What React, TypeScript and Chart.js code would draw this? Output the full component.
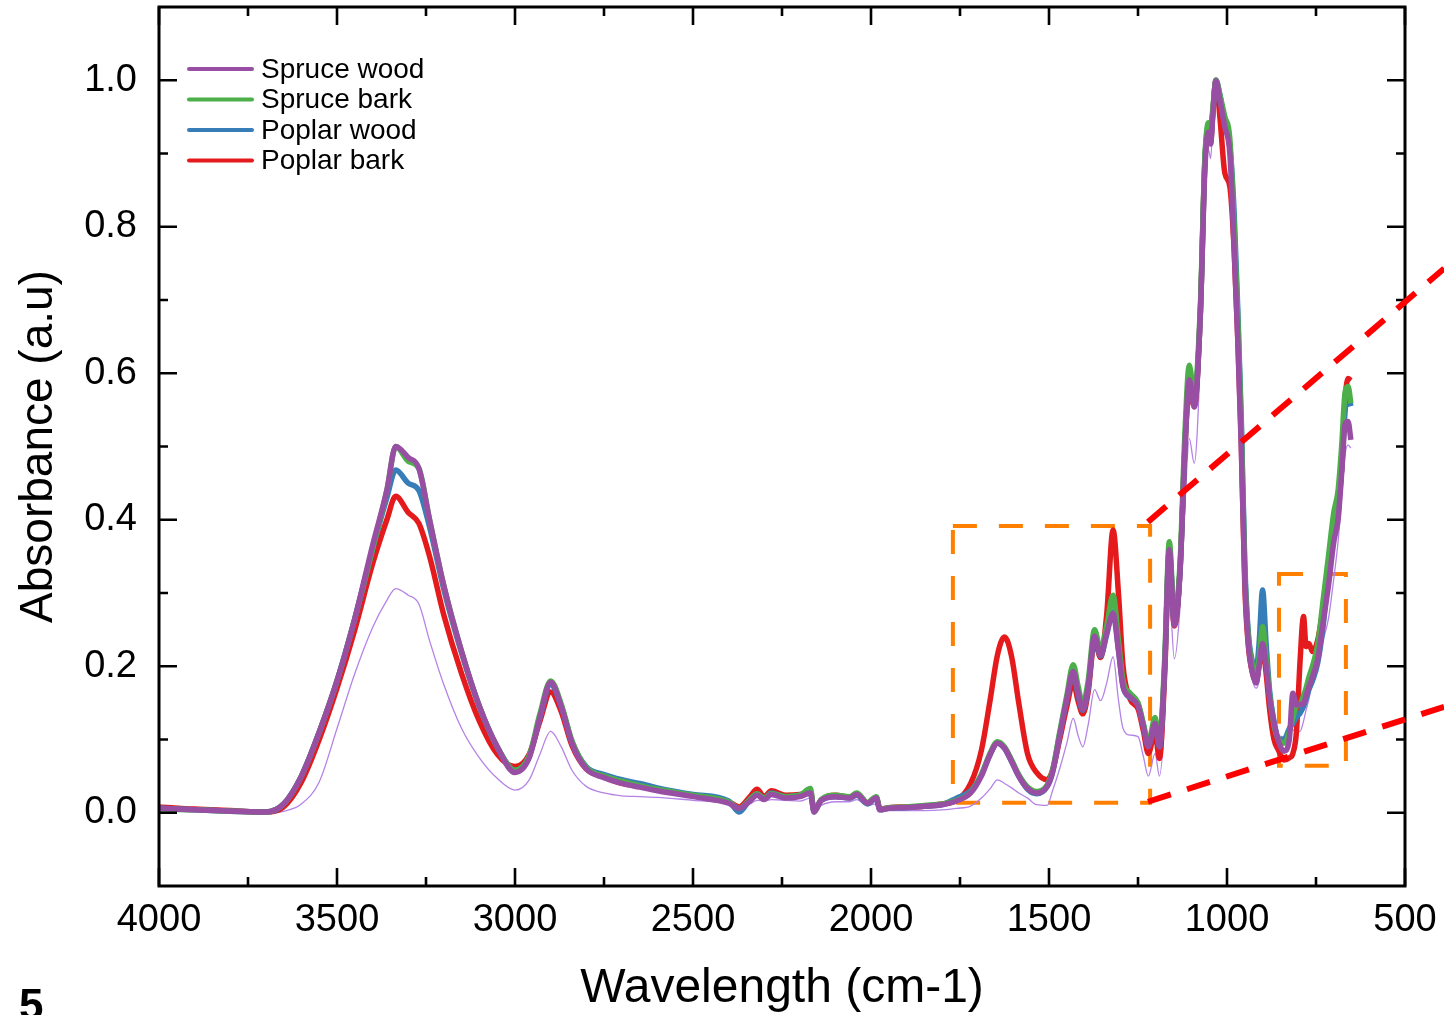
import React, { useEffect, useRef } from 'react';
import { Chart, registerables } from 'chart.js';

Chart.register(...registerables);

// Wavenumbers (cm-1)
const WAVENUMBERS = [
  4000, 3900, 3800, 3700, 3650, 3600, 3550, 3500, 3450, 3400,
  3360, 3335, 3300, 3270, 3240, 3200, 3150, 3100, 3050, 3000,
  2960, 2930, 2900, 2870, 2840, 2800, 2750, 2700, 2650, 2600,
  2500, 2400, 2370, 2340, 2320, 2300, 2280, 2240, 2200, 2170,
  2160, 2140, 2100, 2060, 2040, 2010, 1985, 1975, 1950, 1900,
  1850, 1800, 1760, 1720, 1690, 1665, 1645, 1625, 1605, 1585,
  1560, 1535, 1505, 1490, 1470, 1450, 1432, 1418, 1405, 1390,
  1372, 1355, 1338, 1320, 1305, 1292, 1272, 1250, 1235, 1221,
  1202, 1190, 1175, 1162, 1148, 1132, 1118, 1106, 1092, 1075,
  1062, 1052, 1046, 1040, 1031, 1020, 1006, 992, 980, 970,
  960, 950, 940, 928, 918, 910, 900, 890, 880, 868,
  855, 840, 825, 815, 805, 795, 785, 778, 770, 760,
  745, 730, 715, 700, 688, 678, 668, 660, 652,
];

const SPRUCE_WOOD = [
  0.006, 0.004, 0.002, 0.001, 0.012, 0.05, 0.11, 0.18, 0.265, 0.365,
  0.44, 0.5, 0.485, 0.47, 0.4, 0.31, 0.22, 0.145, 0.09, 0.055,
  0.075, 0.13, 0.178, 0.145, 0.095, 0.06, 0.048, 0.04, 0.035, 0.03,
  0.022, 0.013, 0.006, 0.016, 0.024, 0.018, 0.025, 0.02, 0.022, 0.027,
  0.001, 0.017, 0.022, 0.02, 0.025, 0.013, 0.02, 0.004, 0.006, 0.007,
  0.009, 0.011, 0.016, 0.027, 0.05, 0.08, 0.095, 0.088, 0.07, 0.05,
  0.033, 0.027, 0.036, 0.055, 0.105, 0.155, 0.193, 0.163, 0.141, 0.172,
  0.241, 0.215, 0.245, 0.272, 0.222, 0.172, 0.158, 0.146, 0.118, 0.09,
  0.122, 0.09, 0.2, 0.359, 0.256, 0.33, 0.5, 0.591, 0.554, 0.68,
  0.88, 0.929, 0.913, 0.95, 0.999, 0.973, 0.936, 0.9, 0.77, 0.65,
  0.5, 0.32, 0.231, 0.19, 0.177, 0.2, 0.231, 0.2, 0.155, 0.123,
  0.097, 0.084, 0.1, 0.163, 0.147, 0.148, 0.149, 0.16, 0.172, 0.185,
  0.21, 0.26, 0.31, 0.37, 0.4, 0.463, 0.531, 0.534, 0.509,
];

const SPRUCE_BARK = [
  0.005, 0.004, 0.002, 0.001, 0.012, 0.05, 0.11, 0.18, 0.265, 0.36,
  0.44, 0.5, 0.48, 0.47, 0.4, 0.31, 0.22, 0.145, 0.09, 0.058,
  0.078, 0.135, 0.18, 0.148, 0.098, 0.062, 0.05, 0.043, 0.037, 0.032,
  0.024, 0.015, 0.006, 0.018, 0.026, 0.02, 0.026, 0.022, 0.024, 0.033,
  0.002, 0.018, 0.024, 0.022, 0.027, 0.014, 0.022, 0.005, 0.007, 0.008,
  0.01, 0.012, 0.017, 0.028, 0.052, 0.082, 0.097, 0.09, 0.072, 0.052,
  0.035, 0.029, 0.038, 0.058, 0.11, 0.16, 0.202, 0.172, 0.148, 0.18,
  0.25, 0.222, 0.255, 0.297, 0.235, 0.18, 0.163, 0.15, 0.122, 0.095,
  0.13, 0.095, 0.21, 0.37, 0.265, 0.34, 0.52, 0.611, 0.57, 0.69,
  0.895, 0.942, 0.935, 0.96, 1.0, 0.98, 0.95, 0.92, 0.8, 0.68,
  0.53, 0.33, 0.24, 0.2, 0.19, 0.21, 0.254, 0.21, 0.16, 0.12,
  0.1, 0.095, 0.11, 0.13, 0.145, 0.148, 0.16, 0.17, 0.185, 0.2,
  0.23, 0.29, 0.35, 0.41, 0.44, 0.5, 0.575, 0.582, 0.559,
];

const POPLAR_WOOD = [
  0.006, 0.004, 0.002, 0.001, 0.012, 0.05, 0.11, 0.18, 0.265, 0.36,
  0.43, 0.468, 0.45, 0.44, 0.39, 0.305, 0.218, 0.145, 0.09, 0.058,
  0.077, 0.13, 0.175, 0.145, 0.097, 0.063, 0.052, 0.045, 0.04, 0.034,
  0.025, 0.016, 0.001, 0.018, 0.026, 0.02, 0.027, 0.022, 0.024, 0.028,
  0.001, 0.017, 0.022, 0.02, 0.024, 0.012, 0.02, 0.004, 0.006, 0.007,
  0.009, 0.011, 0.02, 0.03, 0.052, 0.08, 0.095, 0.088, 0.07, 0.05,
  0.032, 0.026, 0.036, 0.056, 0.107, 0.155, 0.19, 0.16, 0.14, 0.17,
  0.24, 0.214, 0.243, 0.275, 0.224, 0.173, 0.157, 0.148, 0.12, 0.092,
  0.12, 0.09, 0.2, 0.36, 0.26, 0.33, 0.5, 0.595, 0.56, 0.68,
  0.89, 0.935, 0.92, 0.955, 1.0, 0.98, 0.94, 0.91, 0.82, 0.69,
  0.54, 0.34, 0.245, 0.205, 0.195, 0.23, 0.304, 0.23, 0.165, 0.125,
  0.1, 0.1, 0.115, 0.122, 0.13, 0.136, 0.145, 0.155, 0.168, 0.18,
  0.205, 0.255, 0.33, 0.4, 0.42, 0.47, 0.55, 0.57, 0.555,
];

const POPLAR_BARK = [
  0.008, 0.005, 0.003, 0.001, 0.008, 0.042, 0.1, 0.17, 0.25, 0.34,
  0.4, 0.432, 0.41, 0.395, 0.35, 0.27, 0.19, 0.125, 0.08, 0.063,
  0.08, 0.125, 0.165, 0.138, 0.092, 0.06, 0.049, 0.04, 0.036, 0.031,
  0.024, 0.015, 0.008, 0.022, 0.032, 0.022, 0.03, 0.024, 0.025, 0.028,
  0.004, 0.017, 0.024, 0.021, 0.026, 0.013, 0.02, 0.005, 0.007, 0.008,
  0.009, 0.012, 0.017, 0.04, 0.085, 0.155, 0.215, 0.24, 0.213, 0.15,
  0.08, 0.055, 0.045, 0.058, 0.1, 0.145, 0.178, 0.152, 0.135, 0.165,
  0.235, 0.212, 0.27, 0.386, 0.3, 0.2, 0.155, 0.142, 0.112, 0.081,
  0.11, 0.074, 0.19, 0.355, 0.255, 0.33, 0.5, 0.58, 0.555, 0.68,
  0.89, 0.93, 0.915, 0.955, 1.0, 0.95, 0.873, 0.855, 0.77, 0.65,
  0.51, 0.31, 0.228, 0.19, 0.18, 0.2, 0.227, 0.19, 0.14, 0.1,
  0.085, 0.072, 0.075, 0.081, 0.11, 0.205, 0.268, 0.227, 0.231, 0.22,
  0.236, 0.28, 0.34, 0.39, 0.42, 0.47, 0.565, 0.593, 0.59,
];

// Thin, unlabeled trace
const THIN_TRACE = [
  0.004, 0.002, 0.001, 0.0, 0.002, 0.012, 0.042, 0.115, 0.19, 0.253,
  0.29, 0.306, 0.297, 0.285, 0.235, 0.175, 0.115, 0.075, 0.047, 0.031,
  0.045, 0.08, 0.111, 0.09, 0.058, 0.036, 0.027, 0.023, 0.022, 0.021,
  0.017, 0.013, 0.009, 0.012, 0.017, 0.016, 0.018, 0.017, 0.016, 0.02,
  0.002, 0.01, 0.015, 0.015, 0.018, 0.01, 0.012, 0.003, 0.003, 0.003,
  0.003, 0.004, 0.006, 0.009, 0.02, 0.033, 0.045, 0.04, 0.034, 0.027,
  0.02, 0.011, 0.01, 0.03, 0.06, 0.095, 0.129, 0.105, 0.09, 0.12,
  0.168, 0.153, 0.177, 0.213, 0.154, 0.115, 0.106, 0.104, 0.077, 0.05,
  0.081, 0.05, 0.13, 0.3, 0.21, 0.28, 0.42, 0.511, 0.477, 0.62,
  0.85, 0.905, 0.893, 0.94, 0.995, 0.97, 0.93, 0.9, 0.78, 0.65,
  0.5, 0.3, 0.22, 0.18, 0.17, 0.18, 0.22, 0.18, 0.14, 0.115,
  0.105, 0.104, 0.108, 0.113, 0.112, 0.111, 0.125, 0.14, 0.155, 0.18,
  0.2, 0.235, 0.265, 0.32, 0.37, 0.43, 0.49, 0.502, 0.498,
];

const SERIES_LABELS = ['Spruce wood', 'Spruce bark', 'Poplar wood', 'Poplar bark'];
const SERIES_COLORS = ['#984ea3', '#4daf4a', '#377eb8', '#e41a1c'];
const THIN_COLOR = '#b583e6';

const X_TICKS = [4000, 3500, 3000, 2500, 2000, 1500, 1000, 500];
const X_MINOR_TICKS = [3750, 3250, 2750, 2250, 1750, 1250, 750];
const Y_TICKS = [0, 0.2, 0.4, 0.6, 0.8, 1.0];
const Y_MINOR_TICKS = [0.1, 0.3, 0.5, 0.7, 0.9];

// Annotation boxes (wavenumber from/to, absorbance low/high)
const ZOOM_BOX_X = [[1770, 1216], [854, 666]];
const ZOOM_BOX_Y = [[0.0136, 0.3915], [0.064, 0.326]];
// Red connector lines (start, end) in data units
const CONNECTOR_X = [[1222, 390], [1222, 390]];
const CONNECTOR_Y = [[0.397, 0.743], [0.015, 0.1446]];

const FONT = "'Liberation Sans', Arial, Helvetica, sans-serif";

const decorPlugin = {
  id: 'decor',
  beforeDatasetsDraw(chart: any) {
    const { ctx } = chart;
    const xs = chart.scales.x;
    const ys = chart.scales.y;
    ctx.save();
    ctx.strokeStyle = '#ff8000';
    ctx.lineWidth = 4;
    ctx.setLineDash([24, 22]);
    ZOOM_BOX_X.forEach((bx, i) => {
      const x1 = xs.getPixelForValue(bx[0]);
      const x2 = xs.getPixelForValue(bx[1]);
      const y1 = ys.getPixelForValue(ZOOM_BOX_Y[i][1]);
      const y2 = ys.getPixelForValue(ZOOM_BOX_Y[i][0]);
      ctx.strokeRect(x1, y1, x2 - x1, y2 - y1);
    });
    ctx.restore();
  },
  afterDraw(chart: any) {
    const { ctx, chartArea } = chart;
    const { left, right, top, bottom } = chartArea;
    const xs = chart.scales.x;
    const ys = chart.scales.y;
    ctx.save();
    // frame
    ctx.strokeStyle = '#000';
    ctx.lineWidth = 3;
    ctx.setLineDash([]);
    ctx.strokeRect(left, top, right - left, bottom - top);
    // ticks
    ctx.lineWidth = 2.6;
    const drawX = (vals: number[], len: number) => {
      vals.forEach((v) => {
        const p = xs.getPixelForValue(v);
        ctx.beginPath();
        ctx.moveTo(p, bottom);
        ctx.lineTo(p, bottom - len);
        ctx.moveTo(p, top);
        ctx.lineTo(p, top + len);
        ctx.stroke();
      });
    };
    const drawY = (vals: number[], len: number) => {
      vals.forEach((v) => {
        const p = ys.getPixelForValue(v);
        ctx.beginPath();
        ctx.moveTo(left, p);
        ctx.lineTo(left + len, p);
        ctx.moveTo(right, p);
        ctx.lineTo(right - len, p);
        ctx.stroke();
      });
    };
    drawX(X_TICKS, 18);
    drawX(X_MINOR_TICKS, 9);
    drawY(Y_TICKS, 18);
    drawY(Y_MINOR_TICKS, 9);

    // red connector lines
    ctx.strokeStyle = '#ff0000';
    ctx.lineWidth = 6;
    ctx.setLineDash([24, 17]);
    CONNECTOR_X.forEach((cx, i) => {
      ctx.beginPath();
      ctx.moveTo(xs.getPixelForValue(cx[0]), ys.getPixelForValue(CONNECTOR_Y[i][0]));
      ctx.lineTo(xs.getPixelForValue(cx[1]), ys.getPixelForValue(CONNECTOR_Y[i][1]));
      ctx.stroke();
    });

    // legend
    ctx.setLineDash([]);
    ctx.font = `28px ${FONT}`;
    ctx.textBaseline = 'middle';
    ctx.textAlign = 'left';
    SERIES_LABELS.forEach((label, i) => {
      const y = top + 62 + i * 30.5;
      ctx.strokeStyle = SERIES_COLORS[i];
      ctx.lineWidth = 4;
      ctx.lineCap = 'round';
      ctx.beginPath();
      ctx.moveTo(left + 30, y);
      ctx.lineTo(left + 93, y);
      ctx.stroke();
      ctx.fillStyle = '#000';
      ctx.fillText(label, left + 102, y + 1);
    });

    // panel number
    ctx.font = `bold 44px ${FONT}`;
    ctx.textBaseline = 'alphabetic';
    ctx.fillStyle = '#000';
    ctx.fillText('5', 19, 1020);
    ctx.restore();
  },
};

export default function App() {
  const ref = useRef<HTMLCanvasElement>(null);

  useEffect(() => {
    document.body.style.margin = '0';
    document.body.style.overflow = 'hidden';
    const canvas = ref.current;
    if (!canvas) return;
    const mk = (ys: number[]) => WAVENUMBERS.map((x, i) => ({ x, y: ys[i] }));
    const thick = [SPRUCE_WOOD, SPRUCE_BARK, POPLAR_WOOD, POPLAR_BARK];
    const datasets: any[] = thick.map((vals, i) => ({
      label: SERIES_LABELS[i],
      data: mk(vals),
      borderColor: SERIES_COLORS[i],
      backgroundColor: SERIES_COLORS[i],
      borderWidth: 5.5,
      pointRadius: 0,
      cubicInterpolationMode: 'monotone',
      fill: false,
    }));
    datasets.push({
      label: '',
      data: mk(THIN_TRACE),
      borderColor: THIN_COLOR,
      backgroundColor: THIN_COLOR,
      borderWidth: 1.3,
      pointRadius: 0,
      cubicInterpolationMode: 'monotone',
      fill: false,
    });

    const chart = new Chart(canvas, {
      type: 'line',
      data: { datasets },
      options: {
        responsive: false,
        animation: false,
        devicePixelRatio: 1,
        layout: { padding: { left: 0, right: 39, top: 7, bottom: 0 } },
        plugins: {
          legend: { display: false },
          tooltip: { enabled: false },
        },
        scales: {
          x: {
            type: 'linear',
            reverse: true,
            min: 500,
            max: 4000,
            grid: { display: false, drawTicks: false },
            border: { display: false },
            afterBuildTicks: (s: any) => {
              s.ticks = X_TICKS.map((v) => ({ value: v }));
            },
            afterFit: (s: any) => {
              s.height = 129;
              s.paddingLeft = 0;
              s.paddingRight = 0;
            },
            ticks: {
              autoSkip: false,
              maxRotation: 0,
              minRotation: 0,
              padding: 12,
              color: '#000',
              font: { size: 38, family: FONT },
              callback: (v: any) => String(v),
            },
            title: {
              display: true,
              text: 'Wavelength (cm-1)',
              color: '#000',
              font: { size: 48, family: FONT, lineHeight: 1.1 },
              padding: { top: 0, bottom: 0 },
            },
          },
          y: {
            type: 'linear',
            min: -0.1,
            max: 1.1,
            grid: { display: false, drawTicks: false },
            border: { display: false },
            afterBuildTicks: (s: any) => {
              s.ticks = Y_TICKS.map((v) => ({ value: v }));
            },
            afterFit: (s: any) => {
              s.width = 159;
              s.paddingTop = 0;
              s.paddingBottom = 0;
            },
            ticks: {
              autoSkip: false,
              padding: 22,
              color: '#000',
              font: { size: 38, family: FONT },
              callback: (v: any) => Number(v).toFixed(1),
            },
            title: {
              display: true,
              text: 'Absorbance (a.u)',
              color: '#000',
              font: { size: 46, family: FONT, lineHeight: 1.13 },
              padding: { top: 13, bottom: 0 },
            },
          },
        },
      },
      plugins: [decorPlugin],
    } as any);

    return () => chart.destroy();
  }, []);

  return (
    <div style={{ position: 'absolute', left: 0, top: 0, width: 1444, height: 1015 }}>
      <canvas ref={ref} width={1444} height={1015} style={{ display: 'block', width: 1444, height: 1015 }} />
    </div>
  );
}
